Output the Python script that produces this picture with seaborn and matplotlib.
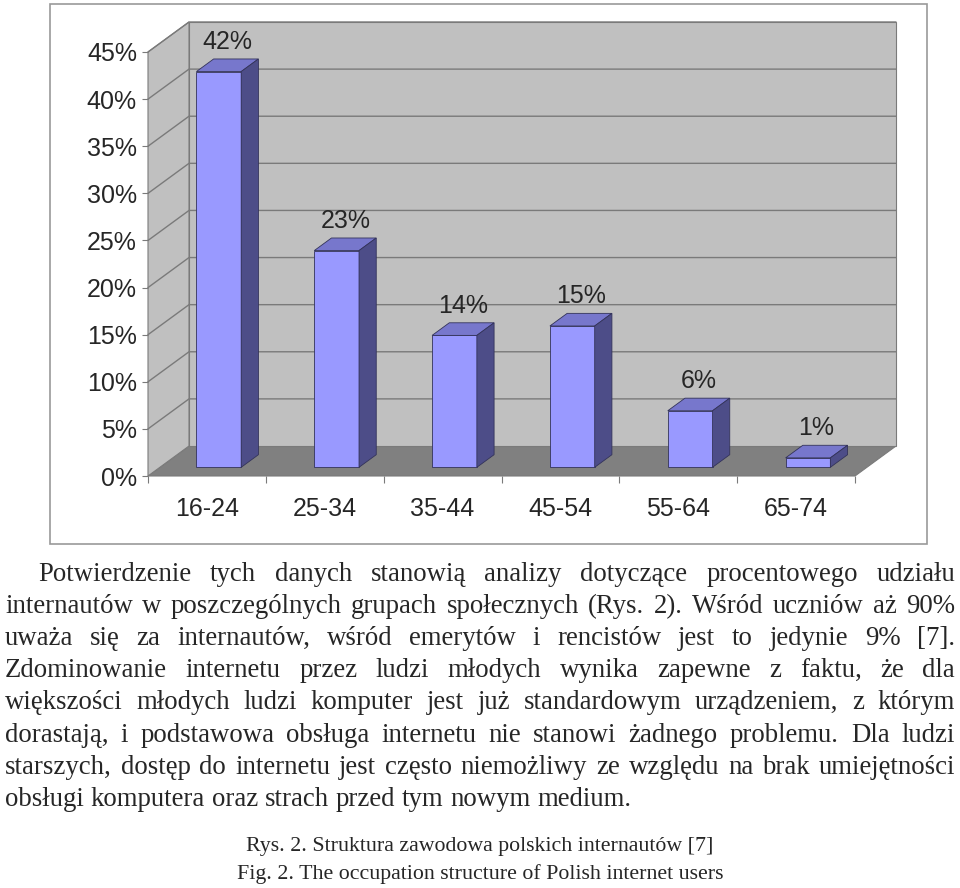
import numpy as np
import pandas as pd
import matplotlib
matplotlib.use("Agg")
import matplotlib.pyplot as plt
from matplotlib.patches import Polygon, Rectangle
import seaborn as sns

sns.set_style("white")
SANS = ["Liberation Sans", "DejaVu Sans"]
SERIF = ["Liberation Serif", "DejaVu Serif"]
plt.rcParams["font.family"] = SANS

# data
age_groups = ["16-24", "25-34", "35-44", "45-54", "55-64", "65-74"]
share_pct = [42, 23, 14, 15, 6, 1]
y_ticks = [0, 5, 10, 15, 20, 25, 30, 35, 40, 45]
y_tick_labels = [f"{t}%" for t in y_ticks]

paragraph_lines = [
    "Potwierdzenie tych danych stanowią analizy dotyczące procentowego udziału",
    "internautów w poszczególnych grupach społecznych (Rys. 2). Wśród uczniów aż 90%",
    "uważa się za internautów, wśród emerytów i rencistów jest to jedynie 9% [7].",
    "Zdominowanie internetu przez ludzi młodych wynika zapewne z faktu, że dla",
    "większości młodych ludzi komputer jest już standardowym urządzeniem, z którym",
    "dorastają, i podstawowa obsługa internetu nie stanowi żadnego problemu. Dla ludzi",
    "starszych, dostęp do internetu jest często niemożliwy ze względu na brak umiejętności",
    "obsługi komputera oraz strach przed tym nowym medium.",
]
caption_lines = [
    "Rys. 2. Struktura zawodowa polskich internautów [7]",
    "Fig. 2. The occupation structure of Polish internet users",
]

FRONT = "#9999FF"
TOP = "#7777CC"
SIDE = "#4D4D88"
WALL = "#C0C0C0"
FLOOR = "#808080"
GRID = "#7A7A7A"

W, H = 960, 888
fig = plt.figure(figsize=(W / 100, H / 100), dpi=100)


def fx(px):
    return px / W


def fy(py):
    return 1 - py / H


# front plane of the 3-D box
ax = fig.add_axes([fx(148), fy(476), fx(855) - fx(148), fy(52) - fy(476)])
df = pd.DataFrame({"age": age_groups, "share": share_pct})
sns.barplot(data=df, x="age", y="share", color=FRONT, saturation=1, width=0.38,
            edgecolor="#33335a", linewidth=0.6, ax=ax, zorder=3)
bars = list(ax.patches)

n = len(age_groups)
x0, x1 = -0.5, n - 0.5
ytop = y_ticks[-1]
ax.set_xlim(x0, x1)
ax.set_ylim(0, ytop)

# depth of the box (41 x 30 px) in data units
ux = ax.bbox.width / n
uy = ax.bbox.height / ytop
dx, dy = 41 / ux, 30 / uy

ax.add_patch(Polygon([(x0, 0), (x1, 0), (x1 + dx, dy), (x0 + dx, dy)],
                     fc=FLOOR, ec=GRID, lw=0.8, zorder=0, clip_on=False))
ax.add_patch(Polygon([(x0 + dx, dy), (x1 + dx, dy), (x1 + dx, ytop + dy), (x0 + dx, ytop + dy)],
                     fc=WALL, ec=GRID, lw=0.8, zorder=0, clip_on=False))
ax.add_patch(Polygon([(x0, 0), (x0 + dx, dy), (x0 + dx, ytop + dy), (x0, ytop)],
                     fc=WALL, ec=GRID, lw=0.8, zorder=0, clip_on=False))
for t in y_ticks[1:]:
    ax.plot([x0, x0 + dx, x1 + dx], [t, t + dy, t + dy], color=GRID, lw=1,
            zorder=1, clip_on=False)

# bars sit in the middle of the depth
f0, f1 = 0.29, 0.71
ddx, ddy = (f1 - f0) * dx, (f1 - f0) * dy
for bar, v in zip(bars, share_pct):
    bx, bw, h = bar.get_x(), bar.get_width(), bar.get_height()
    left = bx + f0 * dx
    base = f0 * dy
    bar.set_x(left)
    bar.set_y(base)
    bar.set_clip_on(False)
    right, top = left + bw, base + h
    ax.add_patch(Polygon([(left, top), (right, top), (right + ddx, top + ddy), (left + ddx, top + ddy)],
                         fc=TOP, ec="#33335a", lw=0.6, zorder=3, clip_on=False))
    ax.add_patch(Polygon([(right, base), (right + ddx, base + ddy), (right + ddx, top + ddy), (right, top)],
                         fc=SIDE, ec="#33335a", lw=0.6, zorder=3, clip_on=False))
    ax.text(bx + bw / 2 + 0.5 * dx, top + ddy + 10 / uy, f"{v}%", ha="center",
            va="baseline", fontsize=18, family=SANS, zorder=4)

ax.set_yticks(y_ticks, y_tick_labels)
ax.set_xticks(range(n), age_groups)
ax.set_xticks(np.arange(x0, x1 + 0.01, 1), minor=True)
ax.tick_params(axis="x", which="major", bottom=True, length=0, pad=15, labelsize=18)
ax.tick_params(axis="x", which="minor", bottom=True, length=5, width=0.8, color=GRID)
ax.tick_params(axis="y", left=True, length=4, width=0.8, color=GRID, pad=4, labelsize=18)
ax.set_xlabel("")
ax.set_ylabel("")
for s in ax.spines.values():
    s.set_visible(False)

fig.add_artist(Rectangle((fx(50), fy(544)), fx(927) - fx(50), fy(4) - fy(544),
                         transform=fig.transFigure, fill=False, ec="#999999", lw=1.2))

# text below the chart
renderer = fig.canvas.get_renderer()


def text_width(s, size):
    t = fig.text(0, 0, s, fontsize=size, family=SERIF)
    w = t.get_window_extent(renderer).width
    t.remove()
    return w


body_size = 16 * 627 / text_width(paragraph_lines[-1], 16)
space_w = text_width("a b", body_size) - text_width("ab", body_size)

LEFT, RIGHT = 5, 955
for i, line in enumerate(paragraph_lines):
    y_px = 581 + 32.1 * i
    start = 38 if i == 0 else LEFT
    words = line.split()
    widths = [text_width(w, body_size) for w in words]
    if i == len(paragraph_lines) - 1:
        gap = space_w
    else:
        gap = (RIGHT - start - sum(widths)) / (len(words) - 1)
    x = start
    for w, wd in zip(words, widths):
        fig.text(fx(x), fy(y_px), w, fontsize=body_size, family=SERIF,
                 ha="left", va="baseline")
        x += wd + gap

cap_size = 16 * 467 / text_width(caption_lines[0], 16)
for y_px, line in zip([851, 879], caption_lines):
    fig.text(0.5, fy(y_px), line, fontsize=cap_size, family=SERIF,
             ha="center", va="baseline")

fig.savefig("out.png", dpi=100)
